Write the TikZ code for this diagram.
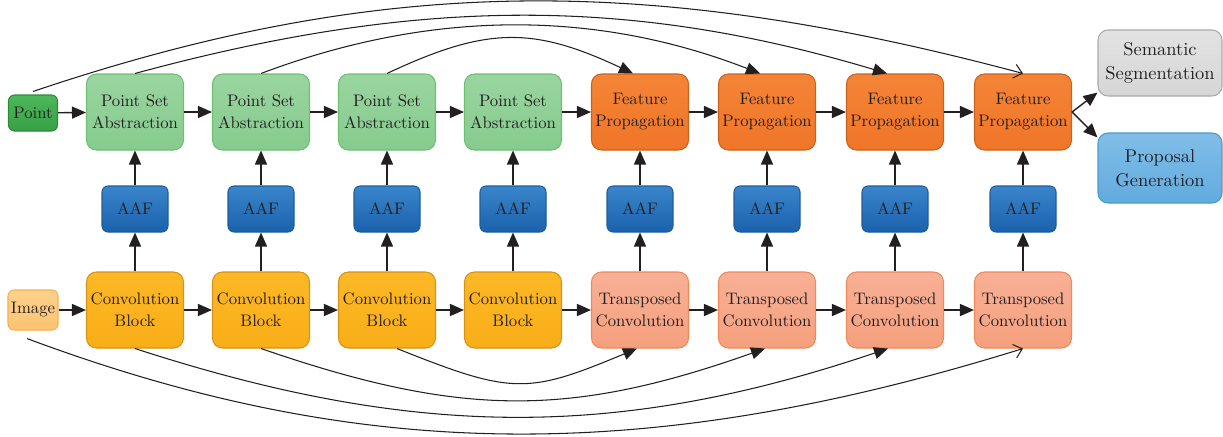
\documentclass[tikz,border=0pt]{standalone}
\usetikzlibrary{arrows.meta}
\definecolor{txt}{HTML}{231F20}
\definecolor{ptline}{HTML}{2C8A3A}\definecolor{pttop}{HTML}{4CB85A}\definecolor{ptbot}{HTML}{36A045}
\definecolor{psaline}{HTML}{6CC072}\definecolor{psatop}{HTML}{9AD5A0}\definecolor{psabot}{HTML}{86CB8E}
\definecolor{aafline}{HTML}{1C5E9E}\definecolor{aaftop}{HTML}{3A85CC}\definecolor{aafbot}{HTML}{1A62AC}
\definecolor{fpline}{HTML}{C8621F}\definecolor{fptop}{HTML}{F58436}\definecolor{fpbot}{HTML}{F07528}
\definecolor{imline}{HTML}{F6B14E}\definecolor{imtop}{HTML}{FED18A}\definecolor{imbot}{HTML}{FCC372}
\definecolor{cbline}{HTML}{D79218}\definecolor{cbtop}{HTML}{FCB826}\definecolor{cbbot}{HTML}{F9AE17}
\definecolor{tcline}{HTML}{F08858}\definecolor{tctop}{HTML}{F8B096}\definecolor{tcbot}{HTML}{F5A07E}
\definecolor{semline}{HTML}{ABABAB}\definecolor{semtop}{HTML}{E2E2E2}\definecolor{sembot}{HTML}{D6D6D6}
\definecolor{prline}{HTML}{4A9AD2}\definecolor{prtop}{HTML}{80BEE8}\definecolor{prbot}{HTML}{62ABDE}
\begin{document}
\begin{tikzpicture}[x=0.2mm,y=-0.2mm,
  box/.style={draw,rounded corners=2mm,line width=0.6pt,align=center,inner sep=0pt,
    text=txt,font=\fontsize{9.5}{12.5}\selectfont},
  big/.style={box,minimum width=19.4mm,minimum height=15.2mm},
  psa/.style={big,draw=psaline,top color=psatop,bottom color=psabot},
  fp/.style={big,draw=fpline,top color=fptop,bottom color=fpbot},
  cb/.style={big,draw=cbline,top color=cbtop,bottom color=cbbot},
  tc/.style={big,draw=tcline,top color=tctop,bottom color=tcbot},
  aaf/.style={box,rounded corners=1.2mm,minimum width=13.2mm,minimum height=9.2mm,
    draw=aafline,top color=aaftop,bottom color=aafbot},
  task/.style={box,minimum width=24.8mm,font=\fontsize{10.5}{13.5}\selectfont},
  arr/.style={-{Triangle[length=2.8mm,width=2.4mm]},line width=0.8pt,draw=txt},
  skip/.style={-{Triangle[length=2.8mm,width=2.4mm]},line width=0.6pt,draw=txt},
  last/.style={-{Straight Barb[length=1.6mm,width=2.8mm]},line width=0.6pt,draw=txt}]
\useasboundingbox (0,0) rectangle (1223,436);
% inputs and outputs
\node[box,rounded corners=1.2mm,minimum width=9.8mm,minimum height=7.2mm,
  draw=ptline,top color=pttop,bottom color=ptbot] (point) at (33,113) {Point};
\node[box,rounded corners=1.2mm,minimum width=10mm,minimum height=8mm,
  draw=imline,top color=imtop,bottom color=imbot] (image) at (33,310) {Image};
\node[task,minimum height=13.2mm,
  draw=semline,top color=semtop,bottom color=sembot] (sem) at (1160,63) {Semantic\\Segmentation};
\node[task,minimum height=14mm,
  draw=prline,top color=prtop,bottom color=prbot] (prop) at (1160,168) {Proposal\\Generation};
% encoder and decoder columns
\foreach \i/\x in {1/135,2/261,3/387,4/513}{
  \node[psa] (psa\i) at (\x,112) {Point Set\\Abstraction};
  \node[cb] (cb\i) at (\x,310) {Convolution\\Block};
}
\foreach \i/\x in {1/640,2/767,3/895,4/1023}{
  \node[fp] (fp\i) at (\x,112) {Feature\\Propagation};
  \node[tc] (tc\i) at (\x,310) {Transposed\\Convolution};
}
\foreach \i/\x in {1/135,2/261,3/387,4/513,5/640,6/767,7/895,8/1023}
  \node[aaf] (aaf\i) at (\x,209) {AAF};
% main flow
\foreach \a/\b in {point/psa1,psa1/psa2,psa2/psa3,psa3/psa4,psa4/fp1,fp1/fp2,fp2/fp3,fp3/fp4,
  image/cb1,cb1/cb2,cb2/cb3,cb3/cb4,cb4/tc1,tc1/tc2,tc2/tc3,tc3/tc4}
  \path[arr] (\a) -- (\b);
\foreach \i in {1,...,4}{
  \path[arr] (cb\i) -- (aaf\i);
  \path[arr] (aaf\i) -- (psa\i);
}
\foreach \i/\j in {1/5,2/6,3/7,4/8}{
  \path[arr] (tc\i) -- (aaf\j);
  \path[arr] (aaf\j) -- (fp\i);
}
\path[arr] (fp4.east) -- ([yshift=0.8mm]sem.south west);
\path[arr] (fp4.east) -- ([yshift=-1mm]prop.north west);
% skip links
\path[last] ([yshift=0.6mm]point.north) .. controls +(347,-117) and +(-375,-100) .. (fp4.north);
\path[skip] (psa1.north) .. controls +(280,-76) and +(-260,-78) .. ([xshift=-1.6mm]fp3.north);
\path[skip] (psa2.north) .. controls +(170,-64) and +(-165,-64) .. ([xshift=-1.4mm]fp2.north);
\path[skip] (psa3.north) .. controls +(100,-47) and +(-100,-47) .. ([xshift=-1.4mm]fp1.north);
\path[last] ([xshift=-1.2mm,yshift=-1.6mm]image.south) .. controls +(330,123) and +(-380,118) .. (tc4.south);
\path[skip] (cb1.south) .. controls +(280,91) and +(-270,91) .. ([xshift=-1.4mm]tc3.south);
\path[skip] (cb2.south) .. controls +(200,69) and +(-195,69) .. ([xshift=-0.4mm]tc2.south);
\path[skip] ([xshift=2mm]cb3.south) .. controls +(115,46) and +(-110,46) .. ([xshift=-0.6mm]tc1.south);
\end{tikzpicture}
\end{document}
